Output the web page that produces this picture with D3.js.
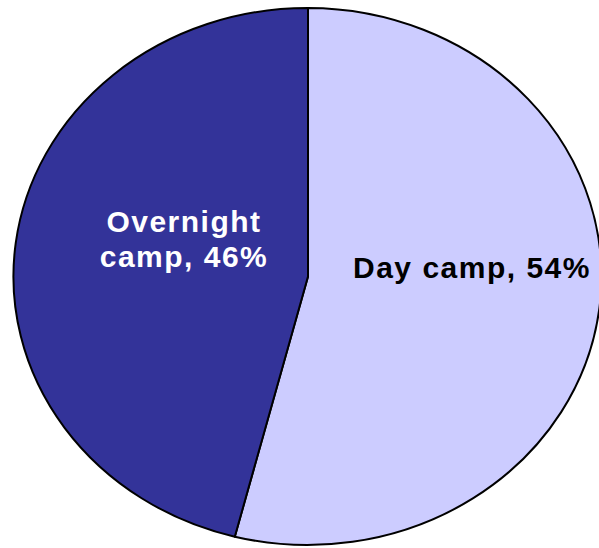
<!DOCTYPE html>
<html>
<head>
<meta charset="utf-8">
<script src="https://cdn.jsdelivr.net/npm/d3@7"></script>
<style>
  html, body { margin: 0; padding: 0; background: #ffffff; }
  svg { display: block; }
</style>
</head>
<body>
<svg id="chart" width="599" height="548"></svg>
<script>
const categories = ["Day camp", "Overnight camp"];
const values = [54, 46];
const labelLines = [["Day camp, 54%"], ["Overnight", "camp, 46%"]];
const colors = ["#CCCCFF", "#333399"];
const textColors = ["#000000", "#ffffff"];

const svg = d3.select("#chart");
const cx = 308, cy = 276.5, rx = 294, ry = 268.5;

const data = categories.map((c, i) => ({ name: c, value: values[i], lines: labelLines[i], color: colors[i], tc: textColors[i] }));
const pie = d3.pie().sort(null).value(d => d.value);
const arcs = pie(data);
const arc = d3.arc().innerRadius(0).outerRadius(1);

const g = svg.append("g").attr("transform", `translate(${cx},${cy}) scale(${rx},${ry})`);
g.selectAll("path").data(arcs).join("path")
  .attr("d", arc)
  .attr("fill", d => d.data.color)
  .attr("stroke", "#000")
  .attr("stroke-width", 2)
  .attr("vector-effect", "non-scaling-stroke")
  .attr("stroke-linejoin", "round");

const labelPos = [[472, 278], [184, 232]];
const lineH = 35;
const lg = svg.append("g");
arcs.forEach((a, i) => {
  const t = lg.append("text")
    .attr("x", labelPos[i][0])
    .attr("y", labelPos[i][1])
    .attr("text-anchor", "middle")
    .attr("font-family", "'Liberation Sans', Arial, sans-serif")
    .attr("font-weight", "bold")
    .attr("font-size", 30)
    .attr("letter-spacing", 1.5)
    .attr("fill", a.data.tc);
  a.data.lines.forEach((ln, j) => {
    t.append("tspan").attr("x", labelPos[i][0]).attr("dy", j === 0 ? 0 : lineH).text(ln);
  });
});
</script>
</body>
</html>
